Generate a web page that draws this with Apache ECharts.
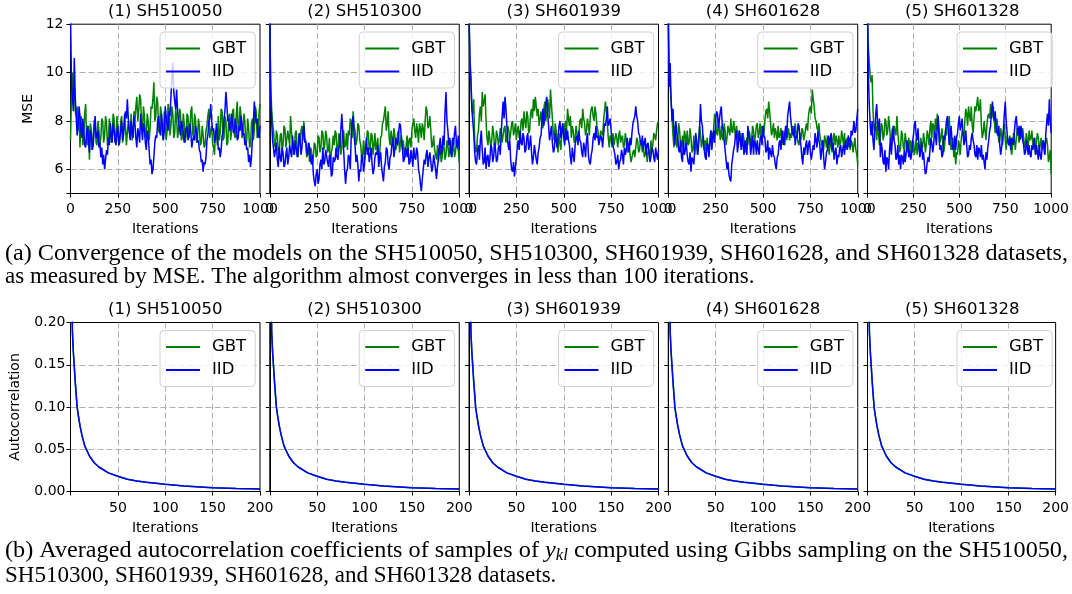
<!DOCTYPE html>
<html><head><meta charset="utf-8">
<script src="https://cdn.jsdelivr.net/npm/echarts@6/dist/echarts.min.js"></script>
<style>html,body{margin:0;padding:0;background:#fff}#c{width:1072px;height:594px}</style>
</head><body><div id="c"></div>
<script>
// ---------- data ----------
const titles = ['(1) SH510050', '(2) SH510300', '(3) SH601939', '(4) SH601628', '(5) SH601328'];
const seriesNames = ['GBT', 'IID'];
const mseTicksX = [0, 250, 500, 750, 1000];
const acfTicksX = [50, 100, 150, 200];
// MSE sampled every 10 iterations (iters) plus the value read half-way between (mid*)
const iters = Array.from({length: 101}, (_, k) => k * 10);

const mseGBT1 = [7.2,10.0,9.3,8.2,7.6,6.9,8.0,7.4,8.7,7.0,6.4,7.6,7.2,8.1,7.0,7.6,7.3,8.0,7.4,7.9,7.2,7.8,7.5,8.1,7.3,7.7,7.1,8.2,7.4,7.8,7.0,7.6,8.3,7.5,8.0,9.0,8.4,8.9,7.6,8.2,7.4,8.0,7.7,8.5,9.6,8.2,8.8,7.5,8.3,7.2,8.0,7.6,8.5,7.8,8.3,7.5,8.1,7.6,8.4,7.3,7.9,7.4,8.2,7.6,8.6,7.5,8.0,7.2,7.8,7.1,7.4,7.0,7.8,8.5,7.6,7.1,6.6,7.4,8.2,7.5,8.4,7.3,8.0,7.1,8.3,7.6,8.5,7.3,8.8,7.8,8.2,7.4,8.0,7.2,7.7,7.0,8.1,7.6,8.4,7.5,8.7];
const midGBT1 = [9.0,9.0,8.4,8.6,8.3,8.2,7.0,8.3,7.2,7.8,7.9,6.8,8.0,7.1,8.0,7.0,8.1,7.1,8.2,7.0,8.1,7.1,8.3,7.1,8.2,7.0,8.0,7.1,8.3,7.0,8.0,7.3,7.2,8.4,8.6,8.0,9.1,7.9,8.6,7.3,8.3,7.2,8.6,8.9,8.0,9.0,7.6,8.6,7.4,8.4,7.2,8.7,7.4,8.6,7.3,8.5,7.3,8.5,7.2,8.3,7.1,8.3,7.3,8.4,7.4,8.3,7.1,8.1,7.0,7.8,6.9,7.6,8.2,7.3,7.8,6.9,7.6,7.0,7.2,8.5,7.2,8.2,7.0,8.2,7.2,8.4,7.4,8.3,7.5,8.6,7.3,8.3,7.0,8.1,6.9,7.9,7.2,8.6,7.3,8.3];
const mseIID1 = [12.5,9.0,10.6,8.2,7.8,8.2,7.3,7.6,6.9,7.8,6.7,7.5,7.0,8.2,7.4,6.9,6.5,6.2,6.0,6.8,7.3,7.9,7.1,7.6,7.0,7.8,7.3,8.0,7.5,8.4,8.9,7.6,8.0,7.3,7.9,6.9,7.5,8.3,7.2,7.7,6.8,7.4,6.2,5.8,6.5,7.4,8.0,7.6,8.3,7.2,8.6,7.8,8.4,9.0,10.4,8.8,9.3,8.0,7.4,7.8,7.1,7.7,7.2,7.9,6.9,7.4,7.8,7.1,6.8,6.3,5.9,6.2,7.2,8.0,8.7,7.6,7.1,7.9,6.8,6.5,7.4,8.1,9.2,8.0,7.6,8.3,7.5,8.1,7.2,7.8,8.2,7.4,7.0,6.8,6.3,6.1,7.3,8.8,7.9,7.4,7.8];
const midIID1 = [9.6,8.4,9.0,7.4,8.6,7.6,8.1,7.0,7.5,7.2,7.6,6.8,7.7,7.3,7.6,7.1,6.9,6.6,6.4,6.6,7.0,7.4,7.9,7.2,7.5,7.0,7.6,7.2,8.0,8.1,8.1,7.2,7.6,8.2,7.3,7.7,7.1,7.7,7.9,7.1,7.6,6.8,6.4,6.0,7.1,7.3,8.2,7.4,7.8,7.6,8.2,7.6,8.2,9.8,9.2,8.5,8.4,7.7,8.0,7.5,7.4,7.8,7.4,7.5,7.2,7.2,7.6,7.2,6.7,6.4,6.3,6.5,7.4,8.1,8.0,7.7,7.3,7.5,6.9,6.8,7.5,8.4,8.7,8.1,7.7,7.9,7.6,7.7,7.3,7.6,7.9,7.5,7.2,6.9,6.6,6.5,7.9,8.2,8.1,7.3];
const mseGBT2 = [12.5,8.5,7.6,6.9,7.4,6.6,7.5,7.0,7.7,6.9,7.6,8.2,7.2,6.8,7.6,6.5,7.0,7.8,8.0,7.1,6.6,6.3,6.8,6.5,7.0,6.6,7.3,6.9,7.5,7.0,7.4,6.8,6.0,6.9,7.0,7.5,6.8,7.3,6.9,7.6,7.0,6.8,7.4,7.9,8.4,7.6,7.2,7.8,7.0,6.6,6.4,7.0,7.5,6.9,7.4,7.0,6.8,7.3,6.6,7.4,8.0,8.6,7.9,7.3,7.6,7.0,7.4,7.0,7.6,7.1,6.8,6.6,7.0,6.7,7.3,7.6,8.1,7.3,7.6,7.9,7.3,7.7,8.0,8.4,7.8,7.6,7.0,6.8,6.4,6.3,6.7,6.5,6.9,6.6,7.0,6.8,6.5,7.1,6.7,6.9,6.3];
const midGBT2 = [9.5,7.9,7.0,7.6,6.8,7.4,6.8,7.8,6.9,7.6,7.0,7.5,6.6,7.5,6.8,7.4,7.6,7.2,7.3,6.5,7.1,6.9,6.2,7.1,6.5,7.4,6.7,7.6,6.8,7.6,6.7,7.3,6.7,7.4,7.6,6.7,7.5,6.6,7.5,6.9,7.5,7.6,8.1,7.3,7.8,7.0,7.9,7.2,6.5,7.2,6.9,7.6,6.8,7.5,6.6,7.5,7.0,6.4,7.3,7.9,8.3,7.6,8.4,7.0,7.3,7.7,6.8,7.5,6.7,7.4,7.2,6.5,7.4,7.2,6.9,7.9,7.6,7.9,7.1,7.7,7.9,7.2,8.6,7.7,8.2,6.9,7.4,6.6,7.0,6.9,6.3,7.1,6.4,7.2,6.5,7.2,6.8,6.5,7.2,6.8];
const mseIID2 = [12.5,8.0,7.2,6.8,6.4,6.9,6.3,6.7,6.2,6.9,6.5,7.0,7.4,6.6,7.2,6.8,7.3,6.9,7.8,7.2,6.6,6.9,6.2,5.8,5.3,6.0,5.6,6.4,6.9,6.3,6.8,6.1,6.5,5.8,6.3,6.9,6.4,7.0,8.3,6.8,5.4,6.0,6.5,7.4,8.2,7.0,6.6,5.5,5.9,6.5,6.2,7.3,6.9,6.6,6.2,6.0,6.7,7.0,6.5,6.1,5.5,6.3,6.8,6.0,6.6,7.3,6.8,7.1,7.5,7.8,6.9,6.4,6.8,6.9,6.3,6.5,6.9,6.4,6.7,5.8,5.1,6.0,6.2,6.8,6.5,6.3,6.1,6.6,5.6,6.4,7.3,6.9,7.0,9.2,7.6,7.3,6.5,7.0,7.8,6.9,6.8];
const midIID2 = [9.0,7.2,6.5,7.1,6.1,6.5,6.9,6.1,6.6,6.2,7.0,6.5,6.9,7.2,6.5,7.5,6.6,7.5,7.1,6.7,7.1,6.4,6.6,5.5,5.8,5.4,6.2,6.0,6.2,6.8,6.3,6.6,5.7,6.5,6.4,6.5,6.9,7.6,7.6,6.0,5.9,6.6,6.0,8.0,7.4,6.3,6.2,6.0,6.6,5.9,6.8,6.6,6.3,6.9,5.8,6.5,6.6,6.1,6.7,5.8,6.1,6.9,6.2,6.5,7.1,6.5,7.3,7.0,7.9,7.2,6.3,6.9,6.5,6.2,6.8,6.1,6.5,6.9,6.0,5.4,5.6,6.4,6.6,6.1,6.7,5.9,6.6,6.0,6.1,7.0,6.6,7.4,8.4,8.0,7.0,6.7,7.3,7.5,7.1,7.4];
const mseGBT3 = [12.5,9.6,8.3,7.2,6.8,7.6,8.6,9.2,8.8,8.0,7.0,7.6,7.2,7.5,7.0,7.4,7.2,7.6,7.1,7.8,7.3,7.6,7.5,8.0,7.6,7.2,7.8,7.4,8.1,8.4,7.7,8.2,7.6,8.5,8.9,9.0,8.2,7.8,8.4,7.7,8.8,8.3,8.6,9.3,8.1,7.2,7.6,6.7,7.1,7.6,7.3,8.0,8.5,7.8,7.3,7.6,7.2,7.8,7.5,8.1,8.5,7.9,7.6,7.8,8.2,8.6,8.0,8.3,7.6,7.2,7.6,8.0,8.8,7.9,6.9,7.3,7.5,7.0,7.3,7.4,7.1,7.4,7.0,7.2,6.8,6.6,6.3,6.8,6.9,7.2,6.8,7.1,7.0,6.6,6.3,6.8,7.2,7.0,7.4,7.6,8.0];
const midGBT3 = [10.2,8.6,8.9,6.7,7.4,8.3,8.0,8.6,9.1,7.3,7.6,6.9,7.8,6.9,7.6,7.0,7.7,7.1,7.7,7.1,7.8,7.2,7.9,7.4,7.9,7.6,7.3,8.0,7.6,8.0,8.4,7.5,8.3,8.1,8.4,8.6,8.5,8.1,7.8,8.5,8.0,8.9,8.1,8.7,7.5,7.9,7.0,7.5,6.8,7.9,7.8,7.6,8.1,8.2,7.8,7.1,7.8,7.2,8.0,7.7,8.1,7.4,8.1,7.4,8.5,8.2,8.6,7.8,7.3,7.6,7.4,8.4,8.4,7.3,7.4,6.9,7.0,7.5,6.9,7.6,7.3,6.9,7.5,6.7,7.1,6.3,6.7,6.5,7.3,6.7,7.2,6.7,6.5,6.9,6.7,6.5,6.8,7.5,7.2,7.9];
const mseIID3 = [12.5,9.8,8.0,6.7,6.2,7.0,7.2,6.8,6.3,6.0,6.6,6.4,6.9,6.5,6.8,6.4,7.0,7.5,8.8,9.0,7.8,6.8,6.4,5.9,5.7,6.5,7.2,7.6,7.0,7.3,6.8,7.5,7.0,6.7,6.5,6.7,6.2,6.9,7.4,8.5,8.2,9.0,7.8,7.5,7.1,6.8,7.2,7.4,8.0,7.6,7.3,7.7,7.6,7.0,6.2,6.6,7.0,7.4,7.6,7.1,6.5,6.9,7.2,6.6,6.2,6.8,7.5,7.8,7.4,7.0,7.3,7.4,7.8,8.6,7.9,7.6,7.0,6.6,6.3,6.0,6.4,6.6,6.9,6.8,7.0,7.3,7.5,7.9,8.6,8.0,7.4,7.0,6.8,7.3,7.0,6.7,6.5,6.8,6.3,6.6,6.8];
const midIID3 = [10.6,8.5,7.5,6.3,6.8,6.4,7.6,6.2,6.9,6.5,6.1,7.0,6.3,7.1,6.3,6.9,6.6,8.2,8.1,8.5,7.1,7.2,6.0,6.3,6.1,6.9,6.8,7.1,7.5,6.7,7.3,6.8,7.4,6.2,7.0,6.4,6.7,7.3,8.0,7.8,8.7,8.3,7.2,7.8,6.7,7.5,6.9,7.8,7.3,7.9,7.0,7.2,7.2,6.5,6.9,6.3,7.3,7.0,7.2,6.7,7.1,6.5,7.5,6.3,6.6,7.3,7.2,7.3,7.0,7.4,6.9,7.9,8.1,7.8,8.1,7.1,6.8,6.2,6.6,6.3,6.8,6.2,6.6,7.3,6.7,7.0,7.9,8.2,8.2,7.5,7.1,7.4,7.1,6.6,7.1,6.3,6.9,6.5,6.9,6.4];
const mseGBT4 = [12.5,9.5,8.2,6.9,7.5,7.2,7.6,6.9,6.8,7.4,7.6,7.1,7.3,6.8,6.6,7.0,7.2,7.5,6.9,6.8,6.6,6.9,7.1,7.5,7.8,8.0,7.4,7.6,7.8,7.2,7.6,7.3,7.8,8.1,7.5,7.7,7.8,7.1,7.4,7.0,7.2,6.8,7.0,7.5,7.2,7.6,7.4,7.9,7.5,7.3,7.6,8.0,8.5,8.8,7.9,7.6,7.3,7.5,7.8,7.4,7.0,7.3,7.6,7.5,7.2,7.3,7.6,7.9,7.5,7.0,7.2,7.6,7.4,7.9,8.2,8.6,9.3,8.6,8.0,7.6,7.4,7.0,6.8,7.2,7.4,6.6,7.0,7.3,7.0,7.2,7.4,7.1,7.3,7.5,7.2,6.9,6.8,7.1,7.0,6.8,6.2];
const midGBT4 = [10.0,8.8,7.4,7.8,6.9,7.9,7.0,7.4,7.6,6.9,7.0,7.7,6.7,7.4,7.2,6.6,7.8,6.9,7.4,7.2,7.3,6.6,7.6,7.1,8.3,7.5,8.0,7.2,7.3,7.9,7.0,7.8,7.4,7.6,8.0,7.3,7.5,7.6,6.9,7.5,6.7,7.3,7.6,7.0,7.8,7.1,7.8,7.3,7.9,7.8,7.5,8.4,8.1,8.4,7.4,7.9,7.7,7.2,7.3,7.7,7.6,7.0,7.2,7.7,7.5,7.8,7.3,7.5,7.1,7.5,7.7,7.2,7.7,7.6,8.5,8.3,8.9,8.1,7.7,7.9,7.2,7.2,7.4,6.9,6.9,7.3,6.7,7.5,7.4,6.9,7.0,7.6,7.0,6.8,7.3,7.3,7.2,6.7,7.3,6.6];
const mseIID4 = [12.5,10.4,8.0,7.6,8.0,7.3,6.7,6.5,7.2,6.8,6.6,6.2,5.9,6.4,6.9,7.2,7.0,8.7,7.8,6.8,6.4,7.0,7.2,6.8,7.6,8.0,8.3,7.7,8.6,7.6,6.8,6.0,5.8,5.5,6.5,7.0,7.6,7.0,7.2,7.5,6.6,7.0,7.8,7.3,7.0,6.6,7.1,7.2,6.6,7.4,7.8,7.3,6.8,6.4,6.9,7.0,6.5,6.0,6.6,7.2,7.6,7.0,7.8,8.2,8.8,7.8,7.4,7.0,7.3,7.8,7.0,6.2,6.6,7.2,7.0,6.7,6.4,6.8,7.2,7.6,7.0,6.8,6.5,6.3,6.8,7.0,7.5,7.1,6.7,6.2,6.5,7.0,6.8,6.6,7.0,7.4,6.9,7.4,8.0,7.6,8.5];
const midIID4 = [9.4,8.9,8.5,7.0,7.5,6.8,7.2,6.3,6.6,7.1,6.3,6.7,6.5,6.2,7.5,6.6,7.6,8.0,7.1,6.5,7.1,6.5,7.6,7.3,7.1,8.4,7.7,8.4,7.8,7.2,6.4,6.3,5.6,6.2,6.8,7.4,6.7,7.6,6.8,7.0,7.2,6.6,7.4,6.6,7.4,7.2,6.6,6.8,7.3,7.0,7.4,6.7,7.2,6.9,6.5,6.6,6.2,6.5,7.1,6.8,7.2,7.5,7.3,8.5,8.2,7.5,7.8,7.4,7.9,7.3,6.5,6.9,7.0,6.6,7.2,6.4,7.0,7.5,6.9,7.2,6.4,7.2,6.0,6.7,7.4,7.3,6.8,6.4,6.9,6.6,6.9,6.5,7.0,7.2,6.8,7.1,7.6,7.6,7.5,8.1];
const mseGBT5 = [12.5,10.4,9.6,8.4,7.6,7.2,7.5,7.3,7.8,7.4,8.0,7.6,7.8,7.3,7.2,7.6,8.2,7.1,6.9,7.4,6.8,7.2,6.8,6.6,7.0,7.2,6.8,6.6,7.0,7.3,6.9,7.2,7.0,7.4,7.7,7.3,7.8,8.1,8.3,7.6,7.3,7.1,7.0,7.4,7.8,7.2,7.0,6.5,6.2,6.6,7.0,7.2,7.6,8.0,8.3,8.6,8.0,7.8,8.1,8.4,9.0,8.5,7.8,7.5,7.6,7.8,8.3,8.7,8.2,8.0,7.8,7.6,7.2,7.4,7.6,7.2,7.4,7.0,6.9,7.0,7.2,7.3,7.5,7.6,7.4,7.3,7.1,7.2,7.6,7.3,7.0,6.9,7.2,7.3,7.0,6.8,6.9,7.2,7.0,6.5,5.8];
const midGBT5 = [11.0,9.8,9.9,7.7,8.0,7.8,7.0,7.9,7.2,8.1,7.4,8.2,7.2,7.7,7.8,7.4,7.5,6.7,7.6,6.9,7.5,6.7,7.3,7.2,6.7,6.6,7.3,7.1,6.6,7.0,7.5,6.7,7.6,7.0,8.0,7.9,7.4,7.6,8.0,7.1,7.7,6.7,7.6,8.0,8.2,6.8,7.3,6.9,6.7,7.2,6.6,7.6,7.3,8.5,7.8,8.2,8.6,7.5,8.6,8.7,8.4,8.9,7.3,8.0,7.2,8.2,8.1,8.1,8.6,7.5,8.1,7.1,7.7,7.0,7.9,6.8,7.2,7.4,6.6,7.5,6.8,7.7,7.1,7.3,7.7,6.9,7.5,6.9,7.2,7.6,7.3,6.6,7.5,6.8,7.3,7.1,6.6,7.3,6.3,6.8];
const mseIID5 = [12.5,8.6,7.4,7.2,7.6,8.7,7.6,6.5,6.8,6.2,5.9,6.4,6.8,6.6,7.8,7.0,6.5,6.2,6.0,6.5,6.8,6.6,7.0,6.8,6.6,7.4,8.0,7.2,7.0,6.8,6.4,6.2,5.9,6.5,6.8,7.1,7.0,7.4,7.8,7.2,7.0,6.6,7.2,8.0,7.6,7.4,7.2,6.9,6.8,7.5,8.2,7.8,7.5,7.2,7.0,6.6,6.8,7.5,7.0,6.5,6.4,6.8,7.0,6.6,6.0,6.4,7.2,7.8,8.8,8.0,7.8,7.4,7.0,6.6,7.6,8.8,7.5,7.0,6.8,7.2,7.6,8.2,7.4,7.2,7.6,7.0,6.7,6.9,7.0,6.5,6.8,7.3,7.0,6.4,6.6,6.8,7.1,7.4,8.3,8.9,7.5];
const midIID5 = [9.8,7.8,8.0,6.8,8.3,7.9,8.1,7.1,6.3,6.8,6.5,6.0,7.3,7.2,7.2,6.4,7.0,6.6,6.6,6.2,6.3,7.2,6.5,6.4,7.1,7.8,7.4,7.7,6.5,7.1,6.7,5.8,6.3,6.3,7.3,6.7,7.6,7.0,8.2,6.8,6.5,7.4,7.6,8.2,7.0,7.8,6.8,7.4,7.3,7.9,7.6,8.1,7.0,7.6,6.5,7.0,7.3,7.2,6.6,7.0,6.9,6.5,6.4,6.3,6.7,6.9,7.6,8.4,8.3,8.4,7.5,7.8,6.6,7.2,8.3,8.0,7.1,7.3,7.3,7.0,8.0,7.7,7.8,7.8,7.2,6.6,7.2,6.6,6.6,7.0,7.0,6.6,6.7,7.0,6.4,7.2,6.6,7.9,7.8,8.0];

const lags   = [1, 2, 3, 4, 5, 6, 7, 8, 10, 12, 15, 20, 25, 30, 40, 50, 60, 70, 80, 100, 120, 150, 175, 200];
const acfGBT = [0.30,0.19,0.165,0.148,0.13,0.115,0.10,0.092,0.078,0.067,0.054,0.042,0.034,0.029,0.022,0.018,0.0145,0.0125,0.011,0.0085,0.0065,0.0045,0.0035,0.003];
const acfIID = [0.30,0.19,0.165,0.148,0.13,0.115,0.10,0.092,0.078,0.067,0.054,0.042,0.034,0.029,0.022,0.018,0.0145,0.0125,0.011,0.0085,0.0065,0.0045,0.0035,0.003];

const mseGBT = [mseGBT1, mseGBT2, mseGBT3, mseGBT4, mseGBT5];
const midGBT = [midGBT1, midGBT2, midGBT3, midGBT4, midGBT5];
const mseIID = [mseIID1, mseIID2, mseIID3, mseIID4, mseIID5];
const midIID = [midIID1, midIID2, midIID3, midIID4, midIID5];

const captionA1 = '(a) Convergence of the models on the SH510050, SH510300, SH601939, SH601628, and SH601328 datasets,';
const captionA2 = 'as measured by MSE. The algorithm almost converges in less than 100 iterations.';
const captionB1a = '(b) Averaged autocorrelation coefficients of samples of ';
const captionB1b = ' computed using Gibbs sampling on the SH510050,';
const captionB2 = 'SH510300, SH601939, SH601628, and SH601328 datasets.';

// ---------- layout ----------
const FONT = 'DejaVu Sans';
const SERIF = 'Liberation Serif';
const L = [0, 1, 2, 3, 4].map(k => 70.5 + 199.25 * k);
const PW = 189.5;
const TOP1 = 24.2, H1 = 169.3, TOP2 = 322.5, H2 = 169;
const GREEN = '#008000', BLUE = '#0000ff';
const GRIDC = '#b0b0b0';

function interleave(main, mid) {
  const out = [];
  for (let j = 0; j < iters.length; j++) {
    out.push([iters[j], main[j]]);
    if (j < mid.length) out.push([(iters[j] + iters[j + 1]) / 2, mid[j]]);
  }
  return out;
}

const grids = [], xAxes = [], yAxes = [], series = [], legends = [], graphics = [];

function axisCommon() {
  return {
    axisLine: {show: true, onZero: false, lineStyle: {color: '#000', width: 1}},
    axisTick: {show: true, length: 4, inside: false, lineStyle: {color: '#000', width: 1}},
    splitLine: {show: true, showMinLine: false, showMaxLine: false, lineStyle: {color: GRIDC, type: [6, 3], width: 1}},
    axisLabel: {color: '#000', fontSize: 14, fontFamily: FONT, hideOverlap: false},
    nameTextStyle: {color: '#000', fontSize: 14, fontFamily: FONT}
  };
}

for (let row = 0; row < 2; row++) {
  for (let k = 0; k < 5; k++) {
    const idx = row * 5 + k;
    const top = row === 0 ? TOP1 : TOP2;
    const h = row === 0 ? H1 : H2;
    grids.push({left: L[k], top: top, width: PW, height: h, show: true, borderColor: '#000', borderWidth: 1, backgroundColor: 'transparent', containLabel: false});

    const xa = axisCommon();
    Object.assign(xa, {type: 'value', gridIndex: idx, name: 'Iterations', nameLocation: 'middle'});
    if (row === 0) {
      xa.min = mseTicksX[0]; xa.max = mseTicksX[mseTicksX.length - 1]; xa.interval = mseTicksX[1] - mseTicksX[0];
      xa.nameGap = 28.5;
      xa.axisLabel.margin = 9;
      xa.axisLabel.formatter = v => String(v);
    } else {
      xa.min = 0; xa.max = acfTicksX[acfTicksX.length - 1]; xa.interval = acfTicksX[1] - acfTicksX[0];
      xa.nameGap = 29.5;
      xa.axisLabel.margin = 10;
      xa.axisLabel.formatter = v => (acfTicksX.indexOf(v) >= 0 ? String(v) : '');
    }
    xAxes.push(xa);

    const ya = axisCommon();
    Object.assign(ya, {type: 'value', gridIndex: idx});
    if (row === 0) {
      ya.min = 5; ya.max = 12; ya.splitNumber = 3; ya.minInterval = 2; ya.maxInterval = 2;
      ya.axisLabel.show = k === 0;
      ya.axisLabel.margin = 7;
      ya.axisLabel.formatter = v => (v % 2 === 0 ? String(v) : '');
    } else {
      ya.min = 0; ya.max = 0.2; ya.interval = 0.05;
      ya.axisLabel.show = k === 0;
      ya.axisLabel.margin = 5;
      ya.axisLabel.formatter = v => v.toFixed(2);
    }
    yAxes.push(ya);

    const gData = row === 0 ? interleave(mseGBT[k], midGBT[k]) : lags.map((x, j) => [x, acfGBT[j]]);
    const bData = row === 0 ? interleave(mseIID[k], midIID[k]) : lags.map((x, j) => [x, acfIID[j]]);
    series.push({name: seriesNames[0], type: 'line', xAxisIndex: idx, yAxisIndex: idx, data: gData, symbol: 'none', clip: true,
      lineStyle: {color: GREEN, width: 1.5}, itemStyle: {color: GREEN}, z: 2});
    series.push({name: seriesNames[1], type: 'line', xAxisIndex: idx, yAxisIndex: idx, data: bData, symbol: 'none', clip: true,
      lineStyle: {color: BLUE, width: 1.5}, itemStyle: {color: BLUE}, z: 3});

    legends.push({
      data: seriesNames, orient: 'vertical', left: L[k] + 89.5, top: row === 0 ? 32 : 330.5,
      icon: 'rect', itemWidth: 34, itemHeight: 2, itemGap: 6,
      padding: [8, 9, 8, 6],
      backgroundColor: 'rgba(255,255,255,0.8)', borderColor: '#d0d0d0', borderWidth: 1, borderRadius: 4,
      textStyle: {color: '#000', fontSize: 16.5, fontFamily: FONT, padding: [0, 0, 0, 7]},
      selectedMode: false, z: 10
    });

    graphics.push({type: 'text', x: L[k] + PW / 2, y: row === 0 ? 11.5 : 309.5,
      style: {text: titles[k], font: '16.5px "' + FONT + '"', fill: '#000', textAlign: 'center', textVerticalAlign: 'middle'}});
  }
}

graphics.push({type: 'text', x: 28, y: TOP1 + H1 / 2, rotation: Math.PI / 2,
  style: {text: 'MSE', font: '14px "' + FONT + '"', fill: '#000', textAlign: 'center', textVerticalAlign: 'middle'}});
graphics.push({type: 'text', x: 15, y: TOP2 + H2 / 2, rotation: Math.PI / 2,
  style: {text: 'Autocorrelation', font: '14px "' + FONT + '"', fill: '#000', textAlign: 'center', textVerticalAlign: 'middle'}});

// captions
const CAPSIZE = 23;
const capFont = CAPSIZE + 'px "' + SERIF + '"';
const ctx = document.createElement('canvas').getContext('2d');
function mw(text, font) { ctx.font = font; return ctx.measureText(text).width; }
const fullW = 1063;
const a1w = mw(captionA1, capFont);
graphics.push({type: 'text', x: 5, y: 254, scaleX: fullW / a1w,
  style: {text: captionA1, font: capFont, fill: '#000', textAlign: 'left', textVerticalAlign: 'middle'}});
graphics.push({type: 'text', x: 5, y: 277,
  style: {text: captionA2, font: capFont, fill: '#000', textAlign: 'left', textVerticalAlign: 'middle'}});
const itFont = 'italic ' + CAPSIZE + 'px "' + SERIF + '"';
const subFont = 'italic 16px "' + SERIF + '"';
const b1w = mw(captionB1a, capFont) + mw('y', itFont) + mw('kl', subFont) + mw(captionB1b, capFont);
graphics.push({type: 'text', x: 5, y: 551, scaleX: fullW / b1w,
  style: {text: captionB1a + '{it|y}{sub|kl}' + captionB1b, font: capFont, fill: '#000', textAlign: 'left', textVerticalAlign: 'middle',
    rich: {it: {font: itFont, fill: '#000'}, sub: {font: subFont, fill: '#000', padding: [10, 0, 0, 0]}}}});
graphics.push({type: 'text', x: 5, y: 576,
  style: {text: captionB2, font: capFont, fill: '#000', textAlign: 'left', textVerticalAlign: 'middle'}});

const chart = echarts.init(document.getElementById('c'), null, {renderer: 'canvas'});
chart.setOption({
  animation: false,
  backgroundColor: '#fff',
  grid: grids, xAxis: xAxes, yAxis: yAxes, series: series, legend: legends,
  graphic: graphics
});
</script></body></html>
